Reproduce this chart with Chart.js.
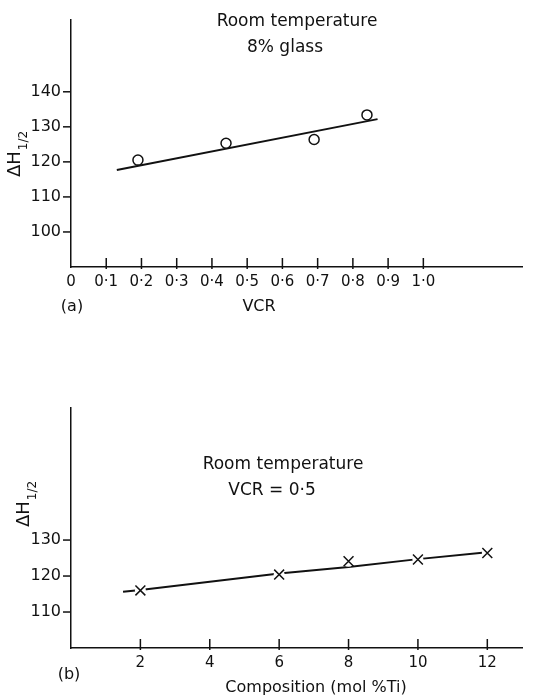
<!DOCTYPE html>
<html>
<head>
<meta charset="utf-8">
<script src="https://cdn.jsdelivr.net/npm/chart.js@4.4.1/dist/chart.umd.min.js"></script>
<style>
    html, body { margin: 0; padding: 0; background: #fff; }
    #wrap { position: relative; width: 545px; height: 698px; }
    canvas { position: absolute; left: 0; }
</style>
</head>
<body>
<div id="wrap">
    <canvas id="plot-a" width="545" height="320" style="top:0"></canvas>
    <canvas id="plot-b" width="545" height="318" style="top:380px"></canvas>
</div>
<script>
// panel (a): half-width vs VCR, room temperature, 8% glass
const vcrA = [0.19, 0.44, 0.69, 0.84];
const dhA = [120.5, 125.3, 126.4, 133.4];
const fitVcrA = [0.13, 0.87];
const fitDhA = [117.7, 132.2];
const xTicksA = [0, 0.1, 0.2, 0.3, 0.4, 0.5, 0.6, 0.7, 0.8, 0.9, 1.0];
const xTickLabelsA = ['0', '0·1', '0·2', '0·3', '0·4', '0·5', '0·6', '0·7', '0·8', '0·9', '1·0'];
const yTicksA = [100, 110, 120, 130, 140];

// panel (b): half-width vs composition, VCR = 0.5
const compB = [2, 6, 8, 10, 12];
const dhB = [116.0, 120.4, 124.1, 124.6, 126.4];
const lineCompB = [1.5, 2, 6, 8, 10, 12];
const lineDhB = [115.6, 116.1, 120.7, 122.5, 124.7, 126.6];
const xTicksB = [2, 4, 6, 8, 10, 12];
const xTickLabelsB = ['2', '4', '6', '8', '10', '12'];
const yTicksB = [110, 120, 130];

const INK = '#111';
Chart.defaults.font.family = "'DejaVu Sans', sans-serif";
Chart.defaults.color = INK;

function pts(xs, ys) {
    return xs.map((x, i) => ({ x: x, y: ys[i] }));
}

// tick marks: y outside the axis, x pointing into the plot
const tickMarks = {
    id: 'tickMarks',
    afterDraw(chart) {
        const ctx = chart.ctx;
        const area = chart.chartArea;
        ctx.save();
        ctx.strokeStyle = INK;
        ctx.lineWidth = 1.5;
        chart.scales.y.ticks.forEach(t => {
            const py = chart.scales.y.getPixelForValue(t.value);
            ctx.beginPath();
            ctx.moveTo(area.left - 8, py);
            ctx.lineTo(area.left, py);
            ctx.stroke();
        });
        chart.scales.x.ticks.forEach(t => {
            if (t.value === 0) return;
            const px = chart.scales.x.getPixelForValue(t.value);
            ctx.beginPath();
            ctx.moveTo(px, area.bottom + 2);
            ctx.lineTo(px, area.bottom - 9);
            ctx.stroke();
        });
        ctx.restore();
    }
};

// free text: in-plot notes, axis captions and the rotated ΔH1/2 label
const notes = {
    id: 'notes',
    afterDraw(chart, args, opts) {
        const ctx = chart.ctx;
        ctx.save();
        ctx.fillStyle = INK;
        ctx.textAlign = 'center';
        ctx.textBaseline = 'middle';
        opts.texts.forEach(n => {
            ctx.font = n.size + "px 'DejaVu Sans', sans-serif";
            ctx.fillText(n.text, n.x, n.y);
        });
        const d = opts.delta;
        ctx.translate(d.x, d.y);
        ctx.rotate(-Math.PI / 2);
        ctx.textAlign = 'left';
        ctx.font = "18px 'DejaVu Sans', sans-serif";
        ctx.fillText('ΔH', 0, 0);
        const w = ctx.measureText('ΔH').width;
        ctx.font = "12px 'DejaVu Sans', sans-serif";
        ctx.fillText('1/2', w + 1, 9);
        ctx.restore();
    }
};

function axes(cfg) {
    return {
        x: {
            type: 'linear',
            min: cfg.xMin,
            max: cfg.xMax,
            afterBuildTicks: s => { s.ticks = cfg.xTicks.map(v => ({ value: v })); },
            afterFit: s => { s.height = cfg.xHeight; },
            grid: { display: false, drawTicks: false },
            border: { display: true, color: INK, width: 1.5 },
            ticks: {
                padding: 6,
                font: { size: 15 },
                color: INK,
                maxRotation: 0,
                autoSkip: false,
                callback: (v, i) => cfg.xLabels[i]
            }
        },
        y: {
            type: 'linear',
            min: cfg.yMin,
            max: cfg.yMax,
            afterBuildTicks: s => { s.ticks = cfg.yTicks.map(v => ({ value: v })); },
            afterFit: s => { s.width = 71; },
            grid: { display: false, drawTicks: false },
            border: { display: true, color: INK, width: 1.5 },
            ticks: {
                padding: 10,
                font: { size: 16 },
                color: INK,
                autoSkip: false,
                callback: v => String(v)
            }
        }
    };
}

new Chart('plot-a', {
    type: 'scatter',
    data: {
        datasets: [{
            data: pts(vcrA, dhA),
            pointStyle: 'circle',
            pointRadius: 5,
            pointBorderWidth: 1.5,
            pointBorderColor: INK,
            pointBackgroundColor: '#fff',
            order: 1
        }, {
            type: 'line',
            data: pts(fitVcrA, fitDhA),
            borderColor: INK,
            borderWidth: 2,
            pointRadius: 0,
            fill: false,
            order: 2
        }]
    },
    options: {
        responsive: false,
        animation: false,
        events: [],
        layout: { padding: { top: 13, right: 23, left: 0, bottom: 0 } },
        plugins: {
            legend: { display: false },
            tooltip: { enabled: false },
            notes: {
                texts: [
                    { text: 'Room temperature', x: 297, y: 22, size: 17 },
                    { text: '8% glass', x: 285, y: 48, size: 17 },
                    { text: '(a)', x: 72, y: 307, size: 16 },
                    { text: 'VCR', x: 259, y: 307, size: 16 }
                ],
                delta: { x: 15, y: 177 }
            }
        },
        scales: axes({
            xMin: 0, xMax: 1.28, xTicks: xTicksA, xLabels: xTickLabelsA, xHeight: 53,
            yMin: 90, yMax: 160.6, yTicks: yTicksA
        })
    },
    plugins: [tickMarks, notes]
});

new Chart('plot-b', {
    type: 'scatter',
    data: {
        datasets: [{
            data: pts(compB, dhB),
            pointStyle: 'crossRot',
            pointRadius: 7,
            pointBorderWidth: 1.5,
            pointBorderColor: INK,
            order: 1
        }, {
            data: pts(compB, dhB),
            pointStyle: 'circle',
            pointRadius: 5.5,
            pointBorderWidth: 0,
            pointBackgroundColor: '#fff',
            order: 2
        }, {
            type: 'line',
            data: pts(lineCompB, lineDhB),
            borderColor: INK,
            borderWidth: 2,
            pointRadius: 0,
            fill: false,
            order: 3
        }]
    },
    options: {
        responsive: false,
        animation: false,
        events: [],
        layout: { padding: { top: 28, right: 23, left: 0, bottom: 0 } },
        plugins: {
            legend: { display: false },
            tooltip: { enabled: false },
            notes: {
                texts: [
                    { text: 'Room temperature', x: 283, y: 85, size: 17 },
                    { text: 'VCR = 0·5', x: 272, y: 111, size: 17 },
                    { text: '(b)', x: 69, y: 295, size: 16 },
                    { text: 'Composition (mol %Ti)', x: 316, y: 308, size: 16 }
                ],
                delta: { x: 24, y: 147 }
            }
        },
        scales: axes({
            xMin: 0, xMax: 13, xTicks: xTicksB, xLabels: xTickLabelsB, xHeight: 50,
            yMin: 100, yMax: 166.7, yTicks: yTicksB
        })
    },
    plugins: [tickMarks, notes]
});
</script>
</body>
</html>
